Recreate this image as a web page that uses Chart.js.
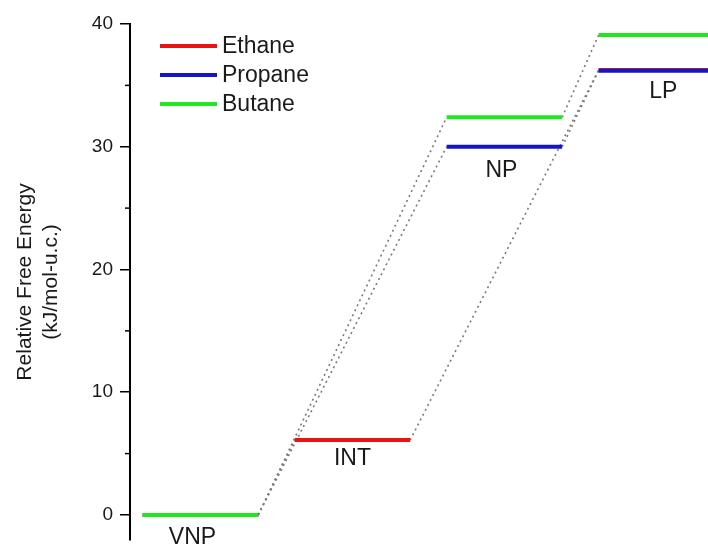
<!DOCTYPE html>
<html>
<head>
<meta charset="utf-8">
<script src="https://cdn.jsdelivr.net/npm/chart.js@4"></script>
<style>
  html, body { margin: 0; padding: 0; background: #fff; }
  canvas { display: block; }
</style>
</head>
<body>
<canvas id="energyChart" width="708" height="546"></canvas>
<script>
// relative free energies per phase (kJ/mol-u.c.), null = phase not visited
var states = ['VNP', 'INT', 'NP', 'LP'];
var ethane = [0, 6.1, null, 36.25];
var propane = [0, null, 30.0, 36.2];
var butane = [0, null, 32.4, 39.1];
var yTicks = [0, 10, 20, 30, 40];
var yMinorTicks = [5, 15, 25, 35];

var halfWidth = 0.38;
var font = 'Liberation Sans';

// small nudges for the phase names (px)
var nameShiftX = [-8, 0, -3, 7];
var nameShiftY = [23, 19, 24, 21];

var series = [
    { label: 'Ethane', values: ethane, color: '#e81414', order: 2 },
    { label: 'Propane', values: propane, color: '#1414c8', order: 1 },
    { label: 'Butane', values: butane, color: '#20e820', order: 0 }
];

// horizontal bar for each phase level
function levelPoints(values) {
    var pts = [];
    values.forEach(function (v, i) {
        if (v === null) return;
        pts.push({ x: i + 1 - halfWidth, y: v }, { x: i + 1 + halfWidth, y: v }, { x: i + 1 + halfWidth, y: null });
    });
    return pts;
}

// dotted link from end of one level to start of the next one
function linkPoints(values) {
    var pts = [];
    var prev = -1;
    values.forEach(function (v, i) {
        if (v === null) return;
        if (prev >= 0) {
            pts.push({ x: prev + 1 + halfWidth, y: values[prev] }, { x: i + 1 - halfWidth, y: v }, { x: i + 1 - halfWidth, y: null });
        }
        prev = i;
    });
    return pts;
}

var datasets = [];
series.forEach(function (s) {
    datasets.push({
        label: s.label,
        data: levelPoints(s.values),
        borderColor: s.color,
        borderWidth: 4,
        pointRadius: 0,
        spanGaps: false,
        order: s.order
    });
});
series.forEach(function (s) {
    datasets.push({
        label: s.label + ' link',
        data: linkPoints(s.values),
        borderColor: '#7a7a7a',
        borderWidth: 1.6,
        borderDash: [2, 3.5],
        pointRadius: 0,
        spanGaps: false,
        order: 3
    });
});

var extras = {
    id: 'extras',
    afterDraw: function (chart) {
        var ctx = chart.ctx;
        var xs = chart.scales.x, ys = chart.scales.y;
        ctx.save();

        // minor ticks on the y axis
        ctx.strokeStyle = '#000';
        ctx.lineWidth = 1.5;
        yMinorTicks.forEach(function (v) {
            var py = ys.getPixelForValue(v);
            ctx.beginPath();
            ctx.moveTo(chart.chartArea.left - 5, py);
            ctx.lineTo(chart.chartArea.left, py);
            ctx.stroke();
        });

        // phase names under the lowest level
        ctx.fillStyle = '#1a1a1a';
        ctx.font = '23px "' + font + '"';
        ctx.textAlign = 'center';
        ctx.textBaseline = 'middle';
        states.forEach(function (name, i) {
            var vals = series.map(function (s) { return s.values[i]; }).filter(function (v) { return v !== null; });
            var low = Math.min.apply(null, vals);
            ctx.fillText(name, xs.getPixelForValue(i + 1) + nameShiftX[i], ys.getPixelForValue(low) + nameShiftY[i]);
        });

        // legend
        ctx.textAlign = 'left';
        series.forEach(function (s, i) {
            var ly = 46 + i * 29;
            ctx.strokeStyle = s.color;
            ctx.lineWidth = 4;
            ctx.beginPath();
            ctx.moveTo(160, ly);
            ctx.lineTo(217, ly);
            ctx.stroke();
            ctx.fillText(s.label, 222, ly + 1);
        });
        ctx.restore();
    }
};

new Chart(document.getElementById('energyChart'), {
    type: 'line',
    data: { datasets: datasets },
    options: {
        responsive: false,
        animation: false,
        layout: { padding: { top: 24, left: 0, right: 0, bottom: 6 } },
        plugins: { legend: { display: false }, tooltip: { enabled: false } },
        scales: {
            x: { type: 'linear', display: false, min: 0.536, max: 4.34 },
            y: {
                min: -2.04,
                max: 40,
                afterFit: function (s) {
                    s.width = 130;
                    s.paddingTop = 0;
                    s.paddingBottom = 0;
                },
                afterBuildTicks: function (s) { s.ticks = yTicks.map(function (v) { return { value: v }; }); },
                border: { color: '#000', width: 2 },
                grid: { drawOnChartArea: false, drawTicks: true, tickLength: 10, color: '#000', lineWidth: 1.5 },
                ticks: { color: '#1a1a1a', font: { family: font, size: 19 }, padding: 7 },
                title: {
                    display: true,
                    text: ['Relative Free Energy', '(kJ/mol-u.c.)'],
                    color: '#1a1a1a',
                    font: { family: font, size: 21, lineHeight: 1.2 },
                    padding: { top: 13, bottom: 0 }
                }
            }
        }
    },
    plugins: [extras]
});
</script>
</body>
</html>
